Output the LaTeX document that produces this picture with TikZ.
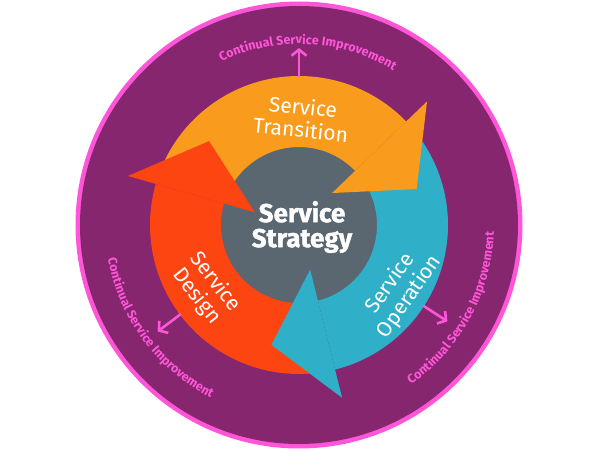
\documentclass[tikz,border=0pt]{standalone}
\usepackage{fontspec}
\setmainfont{Fira Sans}
\newfontfamily\heavysans[BoldFeatures={FakeBold=1.5}]{Fira Sans}
\usetikzlibrary{arrows.meta, decorations.text}

\definecolor{ringpurple}{HTML}{86266E}
\definecolor{ringpink}{HTML}{FF55D8}
\definecolor{stratgray}{HTML}{5A6670}
\definecolor{transorange}{HTML}{F99B1C}
\definecolor{designred}{HTML}{FC4511}
\definecolor{operteal}{HTML}{2FB0C8}

\newcommand{\stagebody}[3]{\fill[#1] (#2:149) arc[start angle=#2, end angle=#3, radius=149] -- (#3:78) arc[start angle=#3, end angle=#2, radius=78] -- cycle;}
\newcommand{\stagehead}[2]{\fill[#1] (#2:178) -- ({#2-27}:123) -- (#2:46) -- cycle;}

\tikzset{
  stage/.style={text=white, align=center, font=\fontsize{21}{23}\selectfont},
  csiarrow/.style={ringpink, line width=2.6pt, -{Straight Barb[length=6pt,width=15pt]}},
  csitext/.style={decorate, decoration={text along path, text align=center, text color=ringpink,
      text={|\fontsize{12.5}{12.5}\bfseries\selectfont|#1}}}
}

\begin{document}
\begin{tikzpicture}[x=1pt, y=1pt]
            \useasboundingbox (-299,-225) rectangle (301,225);

            \fill[ringpink] (0,0) circle (223.5);
            \fill[ringpurple] (0,0) circle (219);
            \fill[stratgray] (0,0) circle (79);

            \stagebody{transorange}{156}{44}
            \stagebody{operteal}{36}{-76}
            \stagebody{designred}{276}{164}
            \stagehead{transorange}{44}
            \stagehead{operteal}{-76}
            \stagehead{designred}{164}

            \node (n_strat) at (3,-2) [text=white, align=center, font=\heavysans\fontsize{26}{25}\selectfont\bfseries] {Service\\Strategy};
            \node (n_trans) at (3,107) [stage, rotate=-6] {Service\\Transition};
            \node (n_design) at (-93,-64) [stage, rotate=-52] {Service\\Design};
            \node (n_oper) at (101,-65) [stage, rotate=55] {Service\\Operation};

            \foreach \ang [count=\i] in {90, 217, -33} {
                \coordinate (c_in_\i) at (\ang:148);
                \coordinate (c_out_\i) at (\ang:177);
                \draw[csiarrow] (c_in_\i) -- (c_out_\i);
            }

            \path[csitext={Continual Service Improvement}] (131:181) arc[start angle=131, end angle=43, radius=181];
            \path[csitext={Continual Service Improvement}] (170:194) arc[start angle=170, end angle=263, radius=194];
            \path[csitext={Continual Service Improvement}] (-88:195) arc[start angle=-88, end angle=31, radius=195];
\end{tikzpicture}
\end{document}
